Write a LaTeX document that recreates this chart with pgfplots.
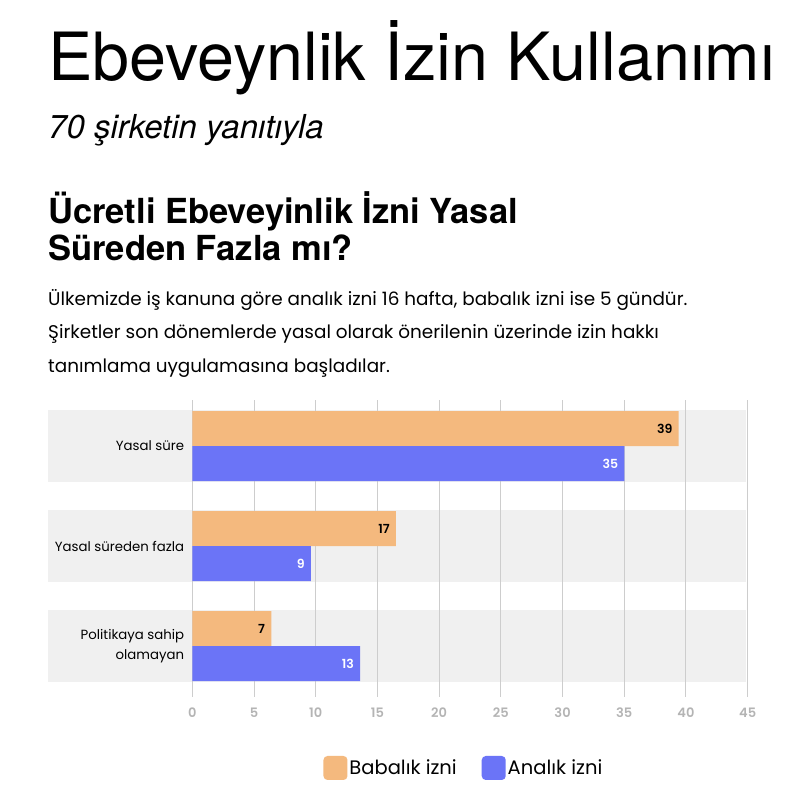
\documentclass[border=0pt]{standalone}
\usepackage{fontspec}
\setmainfont{Poppins}
\newfontfamily\headfont{TeX Gyre Heros}
\newfontfamily\medfont{Poppins SemiBold}
\usepackage{pgfplots}
\pgfplotsset{compat=1.18}
\usepackage{pgfplotstable}

\definecolor{baba}{HTML}{F4B97E}
\definecolor{ana}{HTML}{6B74F7}
\definecolor{band}{HTML}{F0F0F0}
\definecolor{gridc}{HTML}{CDCDCD}
\definecolor{tickc}{HTML}{B4B4B4}

% y: 0 = Yasal sure, 1 = Yasal sureden fazla, 2 = Politikaya sahip olamayan
\pgfplotstableread{
y x label
0 39.4 39
1 16.5 17
2 6.4  7
}\babalik
\pgfplotstableread{
y x label
0 35.0 35
1 9.6  9
2 13.6 13
}\analik

\begin{document}
\begin{tikzpicture}
\path[use as bounding box, fill=white] (0,0) rectangle (786bp,-804bp);

% titles
\node[anchor=base west, inner sep=0pt] at (48bp,-80bp)
  {\headfont\fontsize{66.5bp}{70bp}\selectfont Ebeveynlik İzin Kullanımı};
\node[anchor=base west, inner sep=0pt] at (48bp,-138bp)
  {\headfont\itshape\fontsize{33bp}{36bp}\selectfont 70 şirketin yanıtıyla};
\node[anchor=base west, inner sep=0pt] at (48bp,-223bp)
  {\headfont\bfseries\fontsize{34.5bp}{37bp}\selectfont Ücretli Ebeveyinlik İzni Yasal};
\node[anchor=base west, inner sep=0pt] at (48bp,-260bp)
  {\headfont\bfseries\fontsize{34.5bp}{37bp}\selectfont Süreden Fazla mı?};
\node[anchor=base west, inner sep=0pt] at (48bp,-305bp)
  {\fontsize{18.4bp}{20bp}\selectfont Ülkemizde iş kanuna göre analık izni 16 hafta, babalık izni ise 5 gündür.};
\node[anchor=base west, inner sep=0pt] at (48bp,-338.5bp)
  {\fontsize{18.4bp}{20bp}\selectfont Şirketler son dönemlerde yasal olarak önerilenin üzerinde izin hakkı};
\node[anchor=base west, inner sep=0pt] at (48bp,-372bp)
  {\fontsize{18.4bp}{20bp}\selectfont tanımlama uygulamasına başladılar.};

% grey category bands
\fill[band] (48bp,-410bp) rectangle (746bp,-482bp);
\fill[band] (48bp,-510bp) rectangle (746bp,-582bp);
\fill[band] (48bp,-610bp) rectangle (746bp,-682bp);

\begin{axis}[
    at={(192.3bp,-697bp)}, anchor=south west,
    scale only axis,
    width=555.4bp, height=297bp,
    xbar, bar width=0.35,
    xmin=0, xmax=45,
    ymin=-0.46, ymax=2.51,
    y dir=reverse,
    xtick={0,5,...,45},
    ytick={0,1,2},
    yticklabels={Yasal süre, Yasal süreden fazla, Politikaya sahip\\olamayan},
    yticklabel style={align=right, font=\fontsize{13.3bp}{19.5bp}\selectfont, inner sep=0pt, xshift=-8bp},
    xticklabel style={font=\medfont\fontsize{13bp}{15bp}\selectfont,
      text=tickc, inner sep=0pt, yshift=-11bp},
    /pgf/number format/assume math mode=true,
    major tick length=0pt,
    axis line style={draw=none},
    xmajorgrids,
    grid style={gridc, line width=1bp},
    point meta=explicit symbolic,
    nodes near coords,
    nodes near coords style={anchor=east, inner sep=0pt, xshift=-6bp,
      font=\medfont\fontsize{12.5bp}{15bp}\selectfont},
    legend columns=2,
    legend style={at={(0.489,-0.239)}, anchor=center, draw=none, fill=none,
      font=\fontsize{19.5bp}{22bp}\selectfont,
      /tikz/every even column/.append style={column sep=23bp}},
    legend image code/.code={\fill[#1, draw=none, rounded corners=4bp] (-4bp,-12bp) rectangle (20bp,12bp);},
]
\addplot[fill=baba, draw=none, bar shift=-0.175,
  every node near coord/.append style={text=black}]
  table[x=x, y=y, meta=label] {\babalik};
\addlegendentry{Babalık izni}
\addplot[fill=ana, draw=none, bar shift=0.175,
  every node near coord/.append style={text=white}]
  table[x=x, y=y, meta=label] {\analik};
\addlegendentry{Analık izni}
\end{axis}
\end{tikzpicture}
\end{document}
